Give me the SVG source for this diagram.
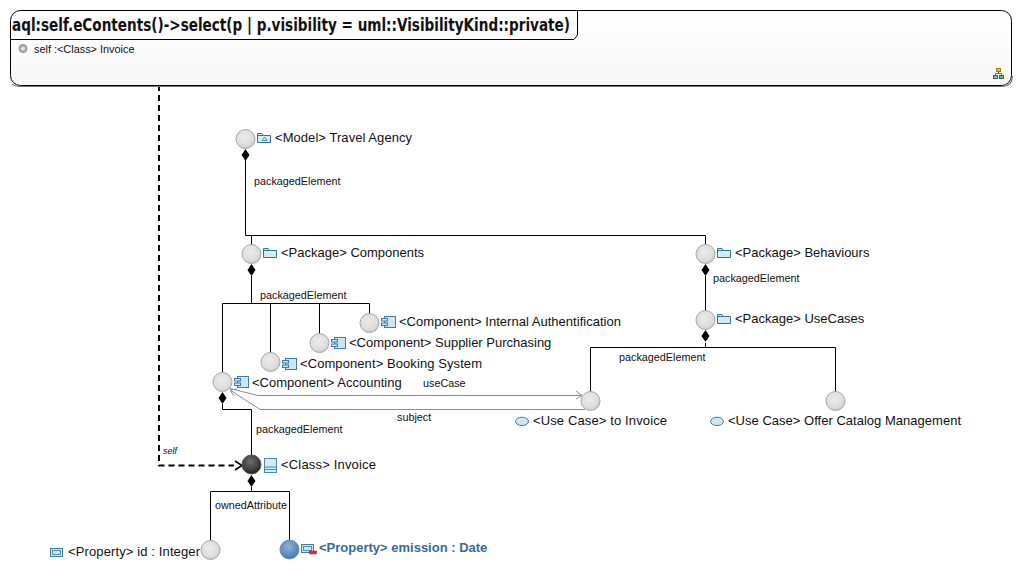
<svg xmlns="http://www.w3.org/2000/svg" width="1023" height="570" viewBox="0 0 1023 570">
<style>
text{font-family:"Liberation Sans",Arial,sans-serif;fill:#111}
.l{font-size:13px}
.s{font-size:10.8px}
.c{fill:none;stroke:#000;stroke-width:1}
.g{fill:none;stroke:#8c8c8c;stroke-width:1}
.n{stroke:#a8a8a8;stroke-width:1;fill:url(#ng)}
.i{fill:#d4ebf5;stroke:#2f7596;stroke-width:1}
.i2{fill:#cfe3f2;stroke:#3a7ba8;stroke-width:1}
</style>
<defs>
<radialGradient id="ng" cx="0.45" cy="0.4" r="0.65"><stop offset="0" stop-color="#ececec"/><stop offset="0.7" stop-color="#dcdcdc"/><stop offset="1" stop-color="#c4c4c4"/></radialGradient>
<radialGradient id="dg" cx="0.45" cy="0.35" r="0.7"><stop offset="0" stop-color="#6e6e6e"/><stop offset="0.7" stop-color="#3a3a3a"/><stop offset="1" stop-color="#111"/></radialGradient>
<radialGradient id="bg" cx="0.45" cy="0.35" r="0.7"><stop offset="0" stop-color="#8fb2d8"/><stop offset="0.7" stop-color="#5a87ba"/><stop offset="1" stop-color="#3d6a9e"/></radialGradient>
<linearGradient id="hg" x1="0" y1="0" x2="0" y2="1"><stop offset="0" stop-color="#fff"/><stop offset="1" stop-color="#f7f7f7"/></linearGradient>
<path id="dm" d="M0,0 L4,6 L0,12 L-4,6 Z" fill="#000"/>
<g id="folder"><path class="i" d="M0.500,1.500 H5 L6.500,3.500 H13.500 V10.500 H0.500 Z"/><path d="M0.500,3.500 H6.500" stroke="#2f7596" fill="none"/></g>
<g id="comp"><rect class="i2" x="3.500" y="0.500" width="11" height="11" fill="#eef6fb"/><rect class="i2" x="0.500" y="2.500" width="6" height="2.500"/><rect class="i2" x="0.500" y="7" width="6" height="2.500"/></g>
<g id="uc"><ellipse class="i2" cx="7" cy="4.400" rx="6.500" ry="4.200"/></g>
</defs>

<g id="connectors">
<path class="c" d="M245.500,160V235.500H705.500M251.500,235.500V245M705.500,235.500V245"/>
<path class="c" d="M251.500,276V303.500M222.500,373V303.500H369.500V314M270.500,303.500V353M319.500,303.500V334"/>
<path class="c" d="M705.500,276V311M705.500,343V347.500M590.500,392V347.500H835.500V392"/>
<path class="c" d="M222.500,404V409.500H251.500V455"/>
<path class="c" d="M251.500,487V491.500M210.500,541V491.500H289.500V540"/>
<path class="g" d="M230,388.500 L258,395.500H582"/>
<path class="g" d="M576,391 L582,395.500 L576,399"/>
<path class="g" d="M585,409.500 H260 L230,390"/>
<path class="g" d="M237,389 L230,390 L234,396"/>
<path d="M159,85V465.500H234" fill="none" stroke="#000" stroke-width="2" stroke-dasharray="6 4"/>
<path d="M235,461 L242,465.500 L235,470" fill="none" stroke="#000" stroke-width="1.600"/>
<use href="#dm" x="245.500" y="149"/>
<use href="#dm" x="251.500" y="264"/>
<use href="#dm" x="705.500" y="264"/>
<use href="#dm" x="705.500" y="330"/>
<use href="#dm" x="222.500" y="392"/>
<use href="#dm" x="251.500" y="475"/>
<text x="163" y="454" font-size="9" font-style="italic">self</text>
<text class="s" x="254" y="185">packagedElement</text>
<text class="s" x="260" y="299">packagedElement</text>
<text class="s" x="713" y="282">packagedElement</text>
<text class="s" x="619" y="361">packagedElement</text>
<text class="s" x="256" y="433">packagedElement</text>
<text class="s" x="215" y="509">ownedAttribute</text>
<text class="s" x="423" y="387">useCase</text>
<text class="s" x="397" y="421">subject</text>
</g>

<g id="container">
<rect x="10.500" y="10.500" width="1001" height="75" rx="10" fill="url(#hg)" stroke="#000" stroke-width="1"/>
<path d="M12,84 Q14,86.500 21,86.500 H1003 Q1012,86.500 1012.500,76" fill="none" stroke="#777" stroke-width="1.200"/>
<path d="M10.500,39.500 H574 L577.500,35 V10.500" fill="none" stroke="#000" stroke-width="1"/>
<text x="12" y="31" font-size="17" font-weight="bold" style="font-family:'DejaVu Sans Condensed','DejaVu Sans',sans-serif" textLength="558" lengthAdjust="spacingAndGlyphs">aql:self.eContents()-&gt;select(p | p.visibility = uml::VisibilityKind::private)</text>
<circle cx="23" cy="48.500" r="4" fill="#b5b5b5" stroke="#8a8a8a"/>
<circle cx="23" cy="48.500" r="1.600" fill="#eee"/>
<text x="34" y="52.500" font-size="10.900">self :&lt;Class&gt; Invoice</text>
<g id="layout-icon"><rect x="996.500" y="68.500" width="4" height="3" fill="#f0c040" stroke="#a08020"/><rect x="993.500" y="75.500" width="4" height="3" fill="#8fb8e0" stroke="#2f6090"/><rect x="999.500" y="75.500" width="4" height="3" fill="#70c060" stroke="#2f7030"/><path d="M998.500,71.500V73.500M995.500,75.500V73.500H1001.500V75.500" fill="none" stroke="#444" stroke-width="0.800"/></g>
</g>

<g id="model"><circle class="n" cx="245.500" cy="139" r="9.500"/><g transform="translate(257,132)"><use href="#folder"/><path d="M5,8.500 L7.500,5 L10,8.500 Z" fill="none" stroke="#2f7596" stroke-width="0.700"/></g><text class="l" x="275" y="142" textLength="137">&lt;Model&gt; Travel Agency</text></g>
<g id="components"><circle class="n" cx="251.500" cy="254" r="9.500"/><use href="#folder" x="263" y="247"/><text class="l" x="281" y="257">&lt;Package&gt; Components</text></g>
<g id="behaviours"><circle class="n" cx="705.500" cy="254" r="9.500"/><use href="#folder" x="717" y="247"/><text class="l" x="735" y="257">&lt;Package&gt; Behaviours</text></g>
<g id="usecases"><circle class="n" cx="705.500" cy="320" r="9.500"/><use href="#folder" x="717" y="313"/><text class="l" x="735" y="323">&lt;Package&gt; UseCases</text></g>
<g id="internal"><circle class="n" cx="369.500" cy="323" r="9.500"/><use href="#comp" x="381" y="316"/><text class="l" x="399" y="326" textLength="222">&lt;Component&gt; Internal Authentification</text></g>
<g id="supplier"><circle class="n" cx="319.500" cy="343" r="9.500"/><use href="#comp" x="331" y="337"/><text class="l" x="349" y="347">&lt;Component&gt; Supplier Purchasing</text></g>
<g id="booking"><circle class="n" cx="270.500" cy="362" r="9.500"/><use href="#comp" x="282" y="358"/><text class="l" x="300" y="368" textLength="182">&lt;Component&gt; Booking System</text></g>
<g id="accounting"><circle class="n" cx="222.500" cy="382" r="9.500"/><use href="#comp" x="234" y="376"/><text class="l" x="252" y="387">&lt;Component&gt; Accounting</text></g>
<g id="toinvoice"><circle class="n" cx="590.500" cy="401" r="9.500"/><use href="#uc" x="515" y="417"/><text class="l" x="533" y="425" textLength="134">&lt;Use Case&gt; to Invoice</text></g>
<g id="offer"><circle class="n" cx="835.500" cy="401" r="9.500"/><use href="#uc" x="710" y="417"/><text class="l" x="728" y="425" textLength="233">&lt;Use Case&gt; Offer Catalog Management</text></g>
<g id="invoice"><circle cx="251.500" cy="464.500" r="9.500" fill="url(#dg)" stroke="#555"/><g transform="translate(264,458)"><rect x="0.500" y="0.500" width="12" height="14" fill="#d4ebf5" stroke="#4a88ad"/><path d="M0.500,9H12.500M0.500,11.500H12.500" stroke="#4a88ad" fill="none"/></g><text class="l" x="281" y="469" textLength="95">&lt;Class&gt; Invoice</text></g>
<g id="prop-id"><circle class="n" cx="210.500" cy="550" r="9.500"/><g transform="translate(50,548)"><rect class="i2" x="0.500" y="0.500" width="12" height="8"/><rect x="2.500" y="2.500" width="8" height="4" fill="none" stroke="#3a7ba8" stroke-width="0.800"/></g><text class="l" x="68" y="556" textLength="132">&lt;Property&gt; id : Integer</text></g>
<g id="prop-emission"><circle cx="289.500" cy="549.500" r="9.500" fill="url(#bg)" stroke="#6a8fb8"/><g transform="translate(301,544)"><rect class="i2" x="0.500" y="0.500" width="12" height="8" fill="#fff"/><rect x="2.500" y="2.500" width="8" height="4" fill="none" stroke="#3a7ba8" stroke-width="0.800"/><rect x="8.500" y="7" width="7" height="3" fill="#d83030" stroke="#a02020" stroke-width="0.500"/></g><text class="l" x="319" y="552" font-weight="bold" style="fill:#3a6a9a">&lt;Property&gt; emission : Date</text></g>
</svg>
